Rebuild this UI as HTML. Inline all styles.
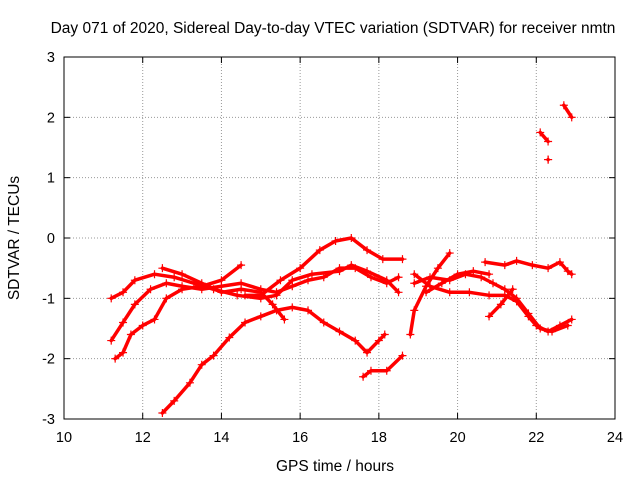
<!DOCTYPE html>
<html><head><meta charset="utf-8"><style>
body{margin:0;background:#fff;}
svg{display:block;font-family:"Liberation Sans",sans-serif;}
</style></head><body>
<svg id="chart" width="640" height="480">
<text x="333" y="33" font-size="15.5" text-anchor="middle">Day 071 of 2020, Sidereal Day-to-day VTEC variation (SDTVAR) for receiver nmtn</text>
<text x="335" y="471" font-size="15.5" text-anchor="middle">GPS time / hours</text>
<text transform="translate(19,238) rotate(-90)" font-size="15.5" text-anchor="middle">SDTVAR / TECUs</text>
<g id="grid"></g>
<g id="ticks"></g>
<g id="series"></g>
<rect x="64" y="57" width="551" height="362" fill="none" stroke="#000"/>
</svg>
<script>
const xTicks=[10,12,14,16,18,20,22,24];
const yTicks=[-3,-2,-1,0,1,2,3];
const traceA=[[12.5,-2.9],[12.8,-2.7],[13.2,-2.4],[13.5,-2.1],[13.8,-1.95],[14.2,-1.65],[14.6,-1.4],[15,-1.3],[15.4,-1.2],[15.8,-1.15],[16.2,-1.2],[16.6,-1.4],[17,-1.55],[17.4,-1.7],[17.7,-1.9],[18,-1.7],[18.15,-1.6]];
const traceB=[[17.6,-2.3],[17.8,-2.2],[18.2,-2.2],[18.6,-1.95]];
const traceC=[[11.2,-1.7],[11.5,-1.4],[11.8,-1.1],[12.2,-0.85],[12.6,-0.75],[13,-0.8],[13.5,-0.85],[14,-0.8],[14.5,-0.75],[15,-0.85],[15.4,-0.9],[15.8,-0.8],[16.2,-0.7],[16.6,-0.65],[17,-0.5],[17.4,-0.5],[17.8,-0.65],[18.2,-0.75],[18.5,-0.65]];
const traceD=[[14.6,-0.95],[15,-0.95],[15.5,-0.7],[16,-0.5],[16.5,-0.2],[16.9,-0.05],[17.3,0.0],[17.7,-0.2],[18.1,-0.35],[18.6,-0.35]];
const traceE=[[11.3,-2.0],[11.5,-1.9],[11.7,-1.6],[12,-1.45],[12.3,-1.35],[12.6,-1.0],[13,-0.85],[13.5,-0.8],[14,-0.7],[14.5,-0.45]];
const traceF=[[11.2,-1.0],[11.5,-0.9],[11.8,-0.7],[12.3,-0.6],[12.8,-0.65],[13.3,-0.75],[13.8,-0.85],[14.4,-0.95],[15,-1.0],[15.4,-0.95],[15.8,-0.7],[16.3,-0.6],[17,-0.55],[17.3,-0.45],[17.7,-0.55],[18.2,-0.7],[18.5,-0.9]];
const traceG=[[12.5,-0.5],[13,-0.6],[13.5,-0.75],[14,-0.9],[14.5,-0.85],[15,-0.9],[15.3,-1.1],[15.6,-1.35]];
const traceH=[[18.8,-1.6],[18.9,-1.2],[19.2,-0.8],[19.5,-0.5],[19.8,-0.25]];
const traceI=[[18.9,-0.6],[19.3,-0.8],[19.8,-0.9],[20.3,-0.9],[20.8,-0.95],[21.2,-0.95],[21.5,-1.05],[21.8,-1.3],[22,-1.45],[22.3,-1.55],[22.6,-1.45],[22.9,-1.35]];
const traceJ=[[18.9,-0.75],[19.3,-0.65],[19.8,-0.7],[20.2,-0.6],[20.6,-0.65],[20.9,-0.75],[21.2,-0.85],[21.5,-1.0],[21.8,-1.25],[22.1,-1.5],[22.4,-1.55],[22.8,-1.45]];
const traceK=[[19.2,-0.9],[19.6,-0.75],[20,-0.6],[20.4,-0.55],[20.8,-0.6]];
const traceL=[[20.8,-1.3],[21.1,-1.1],[21.4,-0.85]];
const traceM=[[20.7,-0.4],[21.2,-0.45],[21.5,-0.38],[21.9,-0.45],[22.3,-0.5],[22.6,-0.4],[22.8,-0.55],[22.9,-0.6]];
const traceN=[[22.1,1.75],[22.3,1.6]];
const traceO=[[22.7,2.2],[22.9,2.0]];
const traceP=[[22.3,1.3],[22.3,1.3]];
const traces=[traceA,traceB,traceC,traceD,traceE,traceF,traceG,traceH,traceI,traceJ,traceK,traceL,traceM,traceN,traceO,traceP];

const X0=64,X1=615,Y0=419,Y1=57;
const sx=v=>X0+(v-10)/(24-10)*(X1-X0);
const sy=v=>Y0-(v+3)/6*(Y0-Y1);
const NS="http://www.w3.org/2000/svg";
const grid=document.getElementById('grid'),ticks=document.getElementById('ticks'),ser=document.getElementById('series');
function mk(tag,attrs,parent){const e=document.createElementNS(NS,tag);for(const k in attrs)e.setAttribute(k,attrs[k]);parent.appendChild(e);return e;}
xTicks.forEach(t=>{const x=sx(t);
 if(t>10&&t<24){const g=mk('line',{x1:x,x2:x,y1:Y0,y2:Y1,stroke:'#999','stroke-dasharray':'1,2'},grid);
 
 }
 mk('line',{x1:x,x2:x,y1:Y0,y2:Y0-6,stroke:'#000'},ticks);
 mk('line',{x1:x,x2:x,y1:Y1,y2:Y1+6,stroke:'#000'},ticks);
 const l=mk('text',{x:x,y:Y0+23,'font-size':14.5,'text-anchor':'middle'},ticks);l.textContent=t;
 
 
});
yTicks.forEach(t=>{const y=sy(t);
 if(t>-3&&t<3){const g=mk('line',{x1:X0,x2:X1,y1:y,y2:y,stroke:'#999','stroke-dasharray':'1,2'},grid);
 
 }
 mk('line',{x1:X0,x2:X0+6,y1:y,y2:y,stroke:'#000'},ticks);
 mk('line',{x1:X1,x2:X1-6,y1:y,y2:y,stroke:'#000'},ticks);
 const l=mk('text',{x:X0-9,y:y+5,'font-size':14.5,'text-anchor':'end'},ticks);l.textContent=t;
 
 
});
traces.forEach((tr,i)=>{
 const p=mk('polyline',{points:tr.map(d=>sx(d[0])+','+sy(d[1])).join(' '),fill:'none',stroke:'#f00','stroke-width':3.5,'stroke-linejoin':'round','stroke-linecap':'round'},ser);
 
 
 tr.forEach(d=>{const x=sx(d[0]),y=sy(d[1]);
  const m=mk('path',{d:`M${x-4},${y}h8M${x},${y-4}v8`,stroke:'#f00','stroke-width':1.2},ser);
  
  
 });
});
</script>
</body></html>
